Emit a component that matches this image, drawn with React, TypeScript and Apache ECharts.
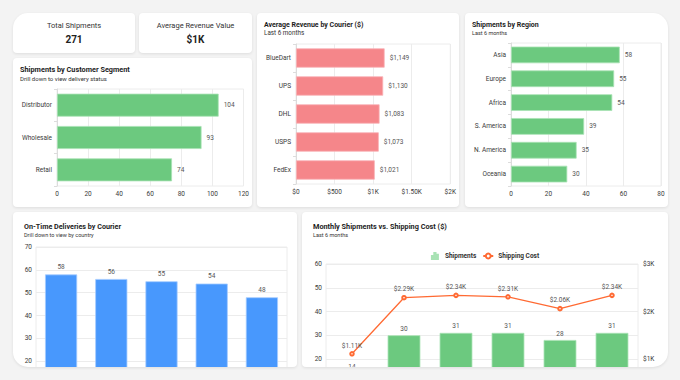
import React, { useEffect, useRef } from "react";
import * as echarts from "echarts";

const FONT = "Roboto, 'Noto Sans', sans-serif";

// KPI tiles
const kpiLabels = ["Total Shipments", "Average Revenue Value"];
const kpiValues = ["271", "$1K"];

// Shipments by customer segment
const segmentNames = ["Distributor", "Wholesale", "Retail"];
const segmentShipments = [104, 93, 74];

// Average revenue by courier ($)
const courierNames = ["BlueDart", "UPS", "DHL", "USPS", "FedEx"];
const courierRevenue = [1149, 1130, 1083, 1073, 1021];

// Shipments by region
const regionNames = ["Asia", "Europe", "Africa", "S. America", "N. America", "Oceania"];
const regionShipments = [58, 55, 54, 39, 35, 30];

// On-time deliveries by courier
const onTimeCouriers = ["BlueDart", "DHL", "UPS", "FedEx", "USPS"];
const onTimeDeliveries = [58, 56, 55, 54, 48];

// Monthly shipments vs. shipping cost
const months = ["Jan", "Feb", "Mar", "Apr", "May", "Jun"];
const monthlyShipments = [14, 30, 31, 31, 28, 31];
const monthlyCost = [1110, 2290, 2340, 2310, 2060, 2340];

const GREEN = "#6cc97f";
const GREEN_EDGE = "#a8e2b4";
const RED = "#f5868a";
const RED_EDGE = "#f9b3b6";
const BLUE = "#4898fd";
const BLUE_EDGE = "#a4cbff";
const ORANGE = "#ff6a33";
const GRID_LINE = "#ececec";
const AXIS_TEXT = "#3a3a3a";
const VALUE_TEXT = "#555";

const money = (v: number) => {
  if (v < 1000) return `$${v}`;
  const k = v / 1000;
  return Number.isInteger(k) ? `$${k}K` : `$${k.toFixed(2)}K`;
};

function titleBlock(text: string, subtext: string, left: number, top: number, size: number, subSize: number, gap: number) {
  return {
    text,
    subtext,
    left,
    top,
    padding: 0,
    itemGap: gap,
    textStyle: { fontFamily: FONT, fontSize: size, fontWeight: "bold", color: "#1d1d1d" },
    subtextStyle: { fontFamily: FONT, fontSize: subSize, color: "#333" },
  };
}

type HBarCfg = {
  title: any;
  grid: { left: number; right: number; top: number; bottom: number };
  cats: string[];
  values: number[];
  max: number;
  interval: number;
  color: string;
  edge: string;
  barWidth: string;
  axisFmt?: (v: number) => string;
  labelFmt?: (v: number) => string;
};

function hBarOption(c: HBarCfg) {
  return {
    animation: false,
    title: c.title,
    grid: { ...c.grid, show: true, borderColor: GRID_LINE, borderWidth: 1 },
    xAxis: {
      type: "value",
      min: 0,
      max: c.max,
      interval: c.interval,
      axisLine: { show: false },
      axisTick: { show: false },
      splitLine: { lineStyle: { color: GRID_LINE } },
      axisLabel: {
        fontFamily: FONT,
        fontSize: 6.5,
        color: AXIS_TEXT,
        margin: 4,
        formatter: c.axisFmt ? (v: number) => c.axisFmt!(v) : "{value}",
      },
    },
    yAxis: {
      type: "category",
      data: c.cats,
      inverse: true,
      axisLine: { lineStyle: { color: "#dcdcdc" } },
      axisTick: { show: true, length: 3, lineStyle: { color: "#dcdcdc" } },
      axisLabel: { fontFamily: FONT, fontSize: 6.5, color: AXIS_TEXT, margin: 5 },
    },
    series: [
      {
        type: "bar",
        data: c.values,
        barWidth: c.barWidth,
        itemStyle: { color: c.color, borderColor: c.edge, borderWidth: 0.8 },
        label: {
          show: true,
          position: "right",
          distance: 5,
          fontFamily: FONT,
          fontSize: 6.5,
          color: VALUE_TEXT,
          formatter: (p: any) => (c.labelFmt ? c.labelFmt(p.value) : String(p.value)),
        },
      },
    ],
  };
}

const segmentOption = hBarOption({
  title: titleBlock("Shipments by Customer Segment", "Drill down to view delivery status", 7, 8, 7.3, 6, 2),
  grid: { left: 44, right: 8, top: 31, bottom: 21 },
  cats: segmentNames,
  values: segmentShipments,
  max: 120,
  interval: 20,
  color: GREEN,
  edge: GREEN_EDGE,
  barWidth: "71%",
});

const courierOption = hBarOption({
  title: titleBlock("Average Revenue by Courier ($)", "Last 6 months", 7, 8, 7, 6.3, 2),
  grid: { left: 39, right: 7, top: 31, bottom: 23 },
  cats: courierNames,
  values: courierRevenue,
  max: 2000,
  interval: 500,
  color: RED,
  edge: RED_EDGE,
  barWidth: "69%",
  axisFmt: money,
  labelFmt: (v) => `$${v.toLocaleString("en-US")}`,
});

const regionOption = hBarOption({
  title: titleBlock("Shipments by Region", "Last 6 months", 7, 8, 7, 5.5, 2),
  grid: { left: 46, right: 7, top: 30, bottom: 21 },
  cats: regionNames,
  values: regionShipments,
  max: 80,
  interval: 20,
  color: GREEN,
  edge: GREEN_EDGE,
  barWidth: "70%",
});

// The two lower panels are taller than the visible card: their plot areas
// run past its bottom edge and are cropped there.
const onTimeOption = {
  animation: false,
  title: titleBlock("On-Time Deliveries by Courier", "Drill down to view by country", 11, 11, 7.2, 5.5, 2),
  grid: {
    left: 23,
    right: 10,
    top: 35,
    height: 160,
    outerBoundsMode: "none",
    show: true,
    borderColor: GRID_LINE,
    borderWidth: 1,
  },
  xAxis: {
    type: "category",
    data: onTimeCouriers,
    axisLine: { lineStyle: { color: "#dcdcdc" } },
    axisTick: { show: false },
    axisLabel: { show: false },
  },
  yAxis: {
    type: "value",
    min: 0,
    max: 70,
    interval: 10,
    axisLine: { show: false },
    splitLine: { lineStyle: { color: GRID_LINE } },
    axisLabel: { fontFamily: FONT, fontSize: 6.5, color: AXIS_TEXT, margin: 4 },
  },
  series: [
    {
      type: "bar",
      data: onTimeDeliveries,
      barWidth: "64%",
      itemStyle: { color: BLUE, borderColor: BLUE_EDGE, borderWidth: 0.8 },
      label: { show: true, position: "top", distance: 4, fontFamily: FONT, fontSize: 6.5, color: VALUE_TEXT },
    },
  ],
};

const monthlyOption = {
  animation: false,
  title: titleBlock("Monthly Shipments vs. Shipping Cost ($)", "Last 6 months", 11, 11, 7.3, 5.5, 2),
  legend: {
    top: 35,
    left: "center",
    itemWidth: 10,
    itemHeight: 6,
    itemGap: 6,
    textStyle: { fontFamily: FONT, fontSize: 6.5, fontWeight: "bold", color: "#333" },
    data: [
      { name: "Shipments", icon: "path://M0,10V5h2v5zM4,10V0h2v10zM8,10V3h2v7z" },
      { name: "Shipping Cost" },
    ],
  },
  grid: {
    left: 24,
    right: 30,
    top: 52,
    height: 142.5,
    outerBoundsMode: "none",
    show: true,
    borderColor: GRID_LINE,
    borderWidth: 1,
  },
  xAxis: {
    type: "category",
    data: months,
    axisLine: { lineStyle: { color: "#dcdcdc" } },
    axisTick: { show: false },
    axisLabel: { show: false },
  },
  yAxis: [
    {
      type: "value",
      min: 0,
      max: 60,
      interval: 10,
      axisLine: { show: false },
      splitLine: { lineStyle: { color: GRID_LINE } },
      axisLabel: { fontFamily: FONT, fontSize: 6.5, color: AXIS_TEXT, margin: 4 },
    },
    {
      type: "value",
      min: 0,
      max: 3000,
      interval: 1000,
      axisLine: { show: false },
      splitLine: { show: false },
      axisLabel: { fontFamily: FONT, fontSize: 6.5, color: AXIS_TEXT, margin: 5, formatter: (v: number) => money(v) },
    },
  ],
  series: [
    {
      name: "Shipments",
      type: "bar",
      yAxisIndex: 0,
      data: monthlyShipments,
      barWidth: "63%",
      itemStyle: { color: GREEN, borderColor: GREEN_EDGE, borderWidth: 0.8 },
      label: { show: true, position: "top", distance: 3, fontFamily: FONT, fontSize: 6.5, color: VALUE_TEXT },
    },
    {
      name: "Shipping Cost",
      type: "line",
      yAxisIndex: 1,
      data: monthlyCost,
      symbol: "emptyCircle",
      symbolSize: 3.5,
      color: ORANGE,
      lineStyle: { color: ORANGE, width: 1.3 },
      itemStyle: { color: ORANGE, borderColor: ORANGE, borderWidth: 1.5 },
      label: {
        show: true,
        position: "top",
        distance: 2,
        fontFamily: FONT,
        fontSize: 6.5,
        color: VALUE_TEXT,
        formatter: (p: any) => money(p.value),
      },
    },
  ],
};

function Chart({ option }: { option: any }) {
  const ref = useRef<HTMLDivElement>(null);
  useEffect(() => {
    const chart = echarts.init(ref.current!, null, { renderer: "svg" });
    chart.setOption(option);
    return () => chart.dispose();
  }, [option]);
  return (
    <div
      ref={ref}
      style={{ position: "absolute", left: 0, top: 0, width: "100%", height: "100%", overflow: "hidden" }}
    />
  );
}

const cardStyle = (left: number, top: number, width: number, height: number, radius = "4px"): React.CSSProperties => ({
  position: "absolute",
  left,
  top,
  width,
  height,
  background: "#fff",
  borderRadius: radius,
  boxShadow: "0 1px 3px rgba(0,0,0,0.09)",
  overflow: "hidden",
});

function Kpi({ label, value, left, width, radius }: { label: string; value: string; left: number; width: number; radius?: string }) {
  return (
    <div style={cardStyle(left, 13, width, 40, radius)}>
      <div
        style={{
          position: "absolute",
          top: 8,
          width: "100%",
          textAlign: "center",
          fontFamily: FONT,
          fontSize: 7.5,
          lineHeight: "10px",
          color: "#333",
        }}
      >
        {label}
      </div>
      <div
        style={{
          position: "absolute",
          top: 21,
          width: "100%",
          textAlign: "center",
          fontFamily: FONT,
          fontSize: 10,
          lineHeight: "12px",
          fontWeight: 700,
          color: "#222",
        }}
      >
        {value}
      </div>
    </div>
  );
}

export default function App() {
  return (
    <div style={{ position: "fixed", left: 0, top: 0, width: 680, height: 380, background: "#f3f3f3", overflow: "hidden" }}>
      <Kpi label={kpiLabels[0]} value={kpiValues[0]} left={13} width={122} radius="15px 4px 4px 4px" />
      <Kpi label={kpiLabels[1]} value={kpiValues[1]} left={139} width={113} />
      <div style={cardStyle(13, 58, 239, 149)}>
        <Chart option={segmentOption} />
      </div>
      <div style={cardStyle(257, 13, 202, 194)}>
        <Chart option={courierOption} />
      </div>
      <div style={cardStyle(465, 13, 203, 194, "4px 15px 4px 4px")}>
        <Chart option={regionOption} />
      </div>
      <div style={cardStyle(13, 212, 284, 155, "4px 4px 4px 15px")}>
        <Chart option={onTimeOption} />
      </div>
      <div style={cardStyle(302, 212, 366, 155, "4px 4px 15px 4px")}>
        <Chart option={monthlyOption} />
      </div>
    </div>
  );
}
